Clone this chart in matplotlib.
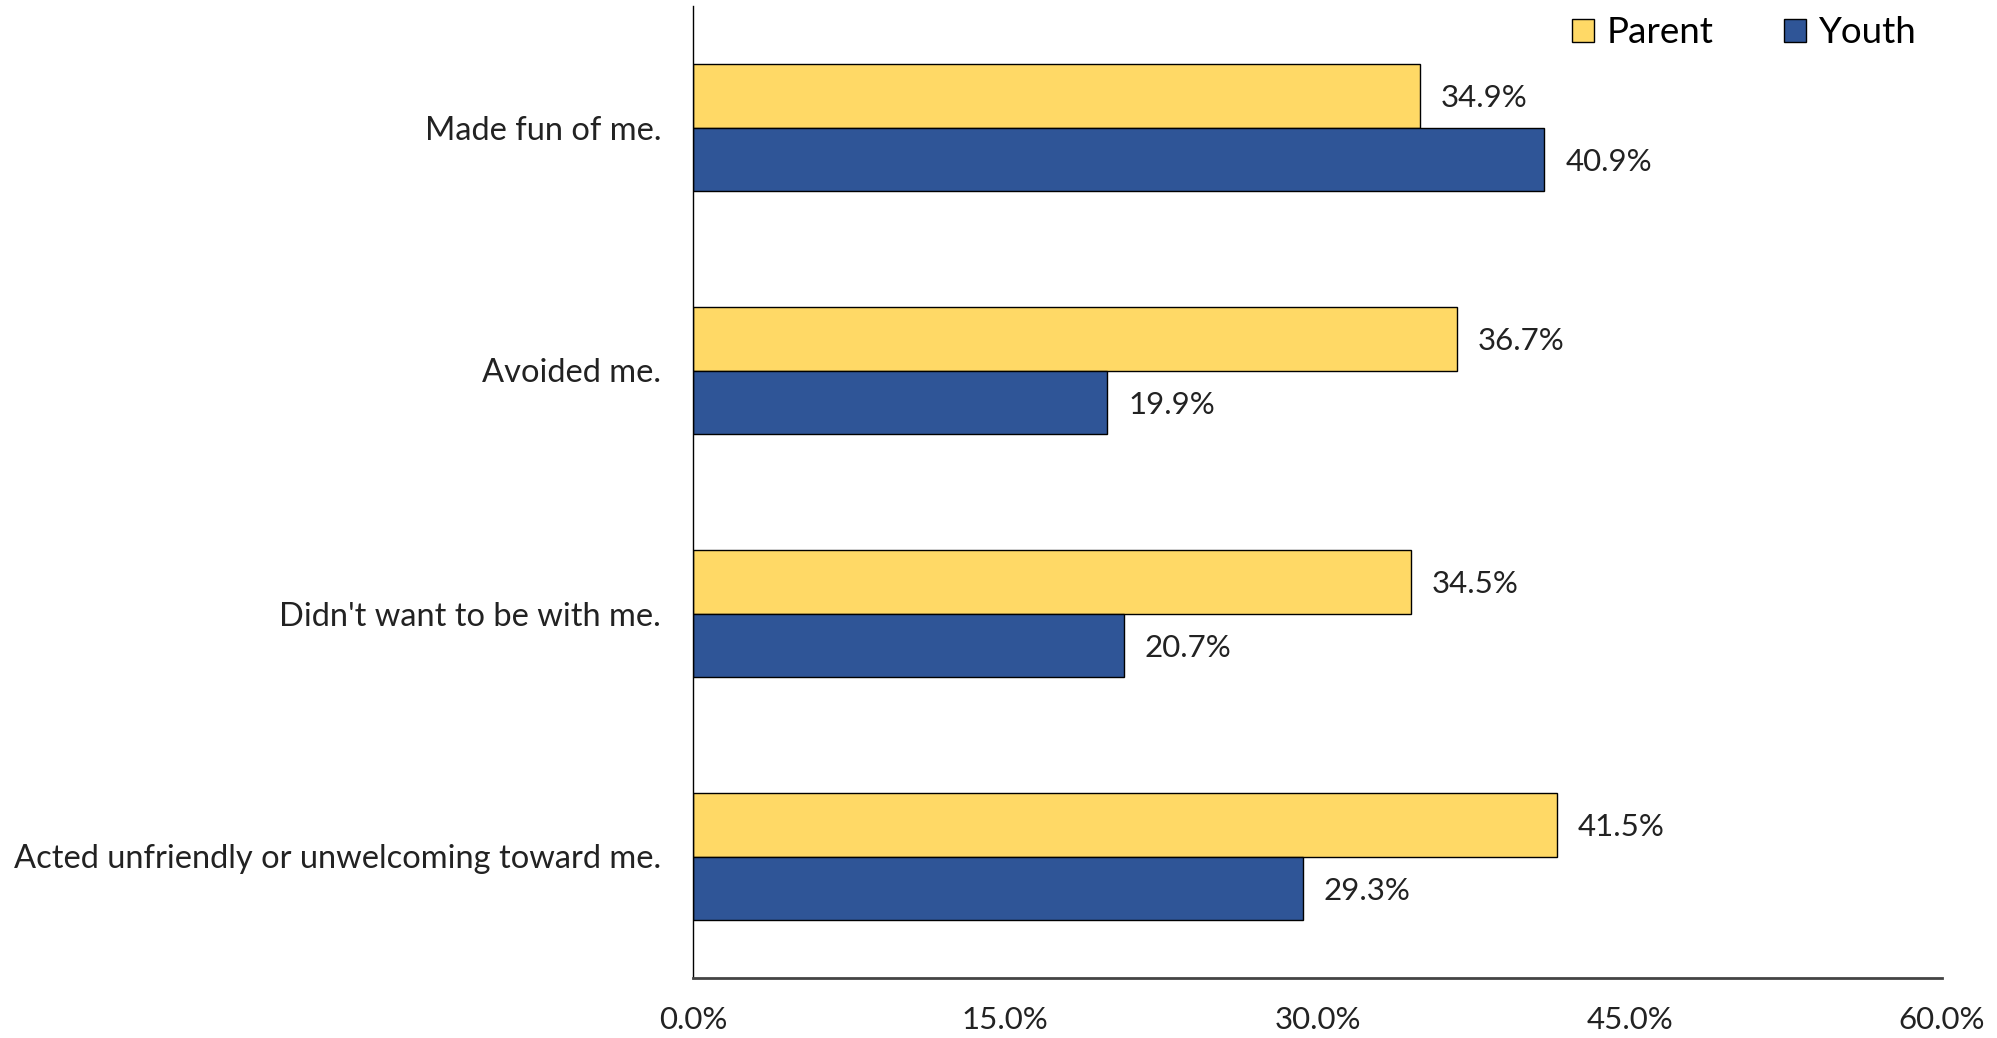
import matplotlib
matplotlib.use("Agg")
import matplotlib.pyplot as plt
import numpy as np

plt.rcParams['font.family'] = ['Lato', 'DejaVu Sans']

categories = [
    "Made fun of me.",
    "Avoided me.",
    "Didn't want to be with me.",
    "Acted unfriendly or unwelcoming toward me.",
]
parent = [34.9, 36.7, 34.5, 41.5]
youth = [40.9, 19.9, 20.7, 29.3]
xticks = [0, 15, 30, 45, 60]

parent_color = "#FFD966"
youth_color = "#2F5597"

fig = plt.figure(figsize=(19.97, 10.38), dpi=100)
ax = fig.add_axes([693 / 1997, 1 - 978 / 1038, (1942 - 693) / 1997, (978 - 6) / 1038])

y = np.arange(len(categories))[::-1].astype(float)
h = 0.26
ax.barh(y + h / 2, parent, height=h, color=parent_color, edgecolor="black", linewidth=1, label="Parent")
ax.barh(y - h / 2, youth, height=h, color=youth_color, edgecolor="black", linewidth=1, label="Youth")

for yi, p, q in zip(y, parent, youth):
    ax.text(p + 1.0, yi + h / 2, f"{p:.1f}%", va="center_baseline", ha="left", fontsize=22.5, color="#222222")
    ax.text(q + 1.0, yi - h / 2, f"{q:.1f}%", va="center_baseline", ha="left", fontsize=22.5, color="#222222")

ax.set_xlim(0, 60)
ax.set_ylim(-0.5, 3.5)
ax.set_xticks(xticks)
ax.set_xticklabels([f"{v:.1f}%" for v in xticks], fontsize=22.5, color="#222222")
ax.set_yticks(y)
ax.set_yticklabels(categories, fontsize=23.5, color="#222222")
ax.tick_params(axis="both", length=0)
ax.tick_params(axis="x", pad=20)
ax.tick_params(axis="y", pad=23)

for s in ["top", "right"]:
    ax.spines[s].set_visible(False)
ax.spines["left"].set_color("black")
ax.spines["left"].set_linewidth(1)
ax.spines["bottom"].set_color("#444444")
ax.spines["bottom"].set_linewidth(2)

ax.legend(loc="upper right", bbox_to_anchor=(1.0, 1.016), ncol=2, frameon=False,
          fontsize=26.5, handlelength=0.6, handleheight=0.6, handletextpad=0.35,
          columnspacing=1.9, borderaxespad=0.3)

fig.savefig("out.png", dpi=100, facecolor="white")
